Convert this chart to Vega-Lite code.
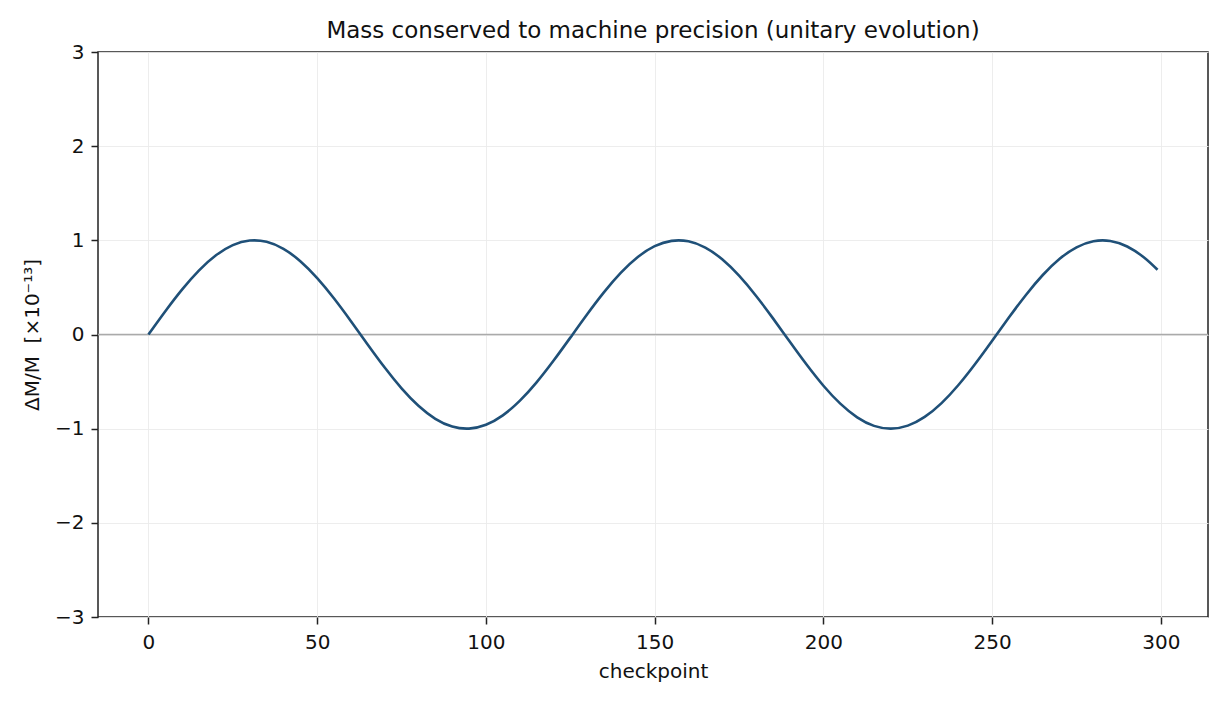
{
  "$schema": "https://vega.github.io/schema/vega-lite/v6.json",
  "width": 1110,
  "height": 565,
  "autosize": {"type": "none"},
  "padding": {"left": 98, "top": 52, "right": 22, "bottom": 88},
  "background": "white",
  "config": {
    "font": "DejaVu Sans",
    "view": {"stroke": "#222222", "strokeWidth": 1.5},
    "axis": {
      "domain": false,
      "tickColor": "#222222",
      "tickSize": 7,
      "tickWidth": 1.5,
      "labelFont": "DejaVu Sans",
      "labelFontSize": 20,
      "labelColor": "#111111",
      "titleFont": "DejaVu Sans",
      "titleFontSize": 20,
      "titleFontWeight": "normal",
      "titleColor": "#111111",
      "gridColor": "#ebebeb",
      "gridWidth": 0.9
    }
  },
  "title": {
    "text": "Mass conserved to machine precision (unitary evolution)",
    "font": "DejaVu Sans",
    "fontSize": 23,
    "fontWeight": "normal",
    "color": "#111111",
    "offset": -1
  },
  "data": {
    "values": [
      {"checkpoint": 0, "dm": 0},
      {"checkpoint": 5, "dm": 0.2474},
      {"checkpoint": 10, "dm": 0.4794},
      {"checkpoint": 15, "dm": 0.6816},
      {"checkpoint": 20, "dm": 0.8415},
      {"checkpoint": 25, "dm": 0.949},
      {"checkpoint": 30, "dm": 0.9975},
      {"checkpoint": 35, "dm": 0.984},
      {"checkpoint": 40, "dm": 0.9093},
      {"checkpoint": 45, "dm": 0.7781},
      {"checkpoint": 50, "dm": 0.5985},
      {"checkpoint": 55, "dm": 0.3817},
      {"checkpoint": 60, "dm": 0.1411},
      {"checkpoint": 65, "dm": -0.1082},
      {"checkpoint": 70, "dm": -0.3508},
      {"checkpoint": 75, "dm": -0.5716},
      {"checkpoint": 80, "dm": -0.7568},
      {"checkpoint": 85, "dm": -0.895},
      {"checkpoint": 90, "dm": -0.9775},
      {"checkpoint": 95, "dm": -0.9993},
      {"checkpoint": 100, "dm": -0.9589},
      {"checkpoint": 105, "dm": -0.8589},
      {"checkpoint": 110, "dm": -0.7055},
      {"checkpoint": 115, "dm": -0.5083},
      {"checkpoint": 120, "dm": -0.2794},
      {"checkpoint": 125, "dm": -0.0332},
      {"checkpoint": 130, "dm": 0.2151},
      {"checkpoint": 135, "dm": 0.45},
      {"checkpoint": 140, "dm": 0.657},
      {"checkpoint": 145, "dm": 0.8232},
      {"checkpoint": 150, "dm": 0.938},
      {"checkpoint": 155, "dm": 0.9945},
      {"checkpoint": 160, "dm": 0.9894},
      {"checkpoint": 165, "dm": 0.9226},
      {"checkpoint": 170, "dm": 0.7985},
      {"checkpoint": 175, "dm": 0.6247},
      {"checkpoint": 180, "dm": 0.4121},
      {"checkpoint": 185, "dm": 0.1739},
      {"checkpoint": 190, "dm": -0.0752},
      {"checkpoint": 195, "dm": -0.3195},
      {"checkpoint": 200, "dm": -0.544},
      {"checkpoint": 205, "dm": -0.7346},
      {"checkpoint": 210, "dm": -0.8797},
      {"checkpoint": 215, "dm": -0.9704},
      {"checkpoint": 220, "dm": -1.0},
      {"checkpoint": 225, "dm": -0.9679},
      {"checkpoint": 230, "dm": -0.8755},
      {"checkpoint": 235, "dm": -0.7287},
      {"checkpoint": 240, "dm": -0.5366},
      {"checkpoint": 245, "dm": -0.3111},
      {"checkpoint": 250, "dm": -0.0663},
      {"checkpoint": 255, "dm": 0.1826},
      {"checkpoint": 260, "dm": 0.4202},
      {"checkpoint": 265, "dm": 0.6318},
      {"checkpoint": 270, "dm": 0.8038},
      {"checkpoint": 275, "dm": 0.9259},
      {"checkpoint": 280, "dm": 0.9906},
      {"checkpoint": 285, "dm": 0.9936},
      {"checkpoint": 290, "dm": 0.9349},
      {"checkpoint": 295, "dm": 0.818},
      {"checkpoint": 299, "dm": 0.6874}
    ]
  },
  "layer": [
    {
      "data": {"values": [{"zero": 0}]},
      "mark": {"type": "rule", "color": "#aaaaaa", "strokeWidth": 1.4},
      "encoding": {
        "y": {"field": "zero", "type": "quantitative", "scale": {"domain": [-3, 3]}}
      }
    },
    {
      "mark": {"type": "line", "color": "#1f5078", "strokeWidth": 2.6, "interpolate": "natural"},
      "encoding": {
        "x": {
          "field": "checkpoint",
          "type": "quantitative",
          "title": "checkpoint",
          "scale": {"domain": [-14.95, 313.95], "nice": false, "zero": false},
          "axis": {"values": [0, 50, 100, 150, 200, 250, 300], "format": "d", "titlePadding": 9, "labelPadding": 8}
        },
        "y": {
          "field": "dm",
          "type": "quantitative",
          "title": "ΔM/M\u00a0\u00a0[×10⁻¹³]",
          "scale": {"domain": [-3, 3], "nice": false},
          "axis": {"values": [-3, -2, -1, 0, 1, 2, 3], "format": "d", "titlePadding": 12, "labelPadding": 7}
        }
      }
    }
  ]
}
